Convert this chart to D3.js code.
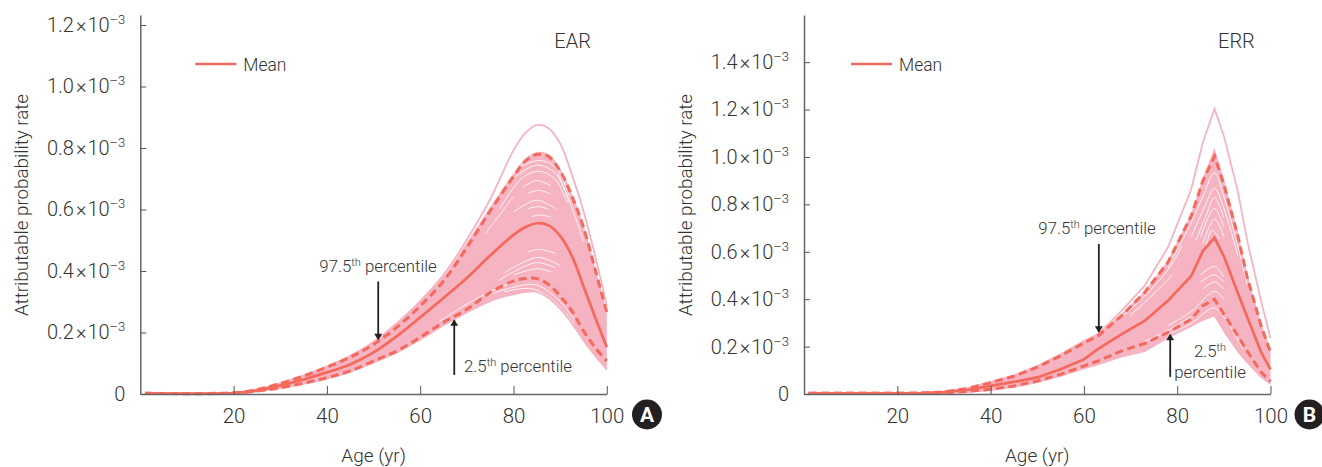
<!DOCTYPE html>
<html>
<head>
<meta charset="utf-8">
<script src="https://cdn.jsdelivr.net/npm/d3@7"></script>
<style>
  body { margin: 0; background: #fff; }
  svg { display: block; }
  text { font-family: Roboto, "Liberation Sans", Arial, sans-serif; font-weight: 300; fill: #333; }
</style>
</head>
<body>
<div id="chart"></div>
<script>
// all values are in units of 10^-3
const earAges = [1, 20, 25, 30, 35, 40, 45, 50, 55, 60, 65, 70, 75, 80, 82.5, 85, 87.5, 90, 92.5, 95, 97.5, 100];
const earMean = [0, 0.001, 0.009, 0.025, 0.045, 0.068, 0.094, 0.133, 0.186, 0.247, 0.31, 0.375, 0.448, 0.515, 0.54, 0.553, 0.546, 0.512, 0.447, 0.348, 0.247, 0.15];
const earP975 = [0, 0.001, 0.012, 0.032, 0.056, 0.085, 0.117, 0.159, 0.215, 0.284, 0.365, 0.474, 0.593, 0.705, 0.755, 0.777, 0.77, 0.723, 0.642, 0.54, 0.403, 0.263];
const earP025 = [0, 0.001, 0.007, 0.018, 0.033, 0.051, 0.073, 0.105, 0.138, 0.182, 0.231, 0.273, 0.328, 0.365, 0.373, 0.373, 0.354, 0.316, 0.268, 0.203, 0.149, 0.105];
const earMax = [0, 0.001, 0.013, 0.033, 0.058, 0.088, 0.122, 0.168, 0.228, 0.3, 0.385, 0.5, 0.631, 0.79, 0.846, 0.872, 0.862, 0.812, 0.712, 0.593, 0.447, 0.286];
const earMin = [0, 0.001, 0.006, 0.017, 0.031, 0.048, 0.07, 0.1, 0.133, 0.175, 0.221, 0.263, 0.3, 0.322, 0.33, 0.33, 0.31, 0.275, 0.228, 0.172, 0.122, 0.078];
const earTop = [0, 0.001, 0.013, 0.033, 0.058, 0.088, 0.122, 0.168, 0.228, 0.3, 0.38, 0.49, 0.605, 0.715, 0.762, 0.785, 0.778, 0.73, 0.65, 0.548, 0.41, 0.27];
// thin white gaps between the simulated runs, [age, value]
const earGaps = [
  [[81, 0.735], [85.5, 0.757], [89, 0.735], [92, 0.64]],
  [[80, 0.7], [85, 0.742], [89, 0.715], [92, 0.62]],
  [[77, 0.6], [82, 0.702], [85.5, 0.722], [89, 0.695], [91.5, 0.62]],
  [[82, 0.67], [85, 0.692], [88, 0.675]],
  [[83, 0.65], [85.5, 0.66], [88, 0.648]],
  [[80, 0.59], [85, 0.628], [89, 0.6]],
  [[83, 0.6], [85.5, 0.607], [87.5, 0.598]],
  [[84, 0.575], [86, 0.58], [88, 0.572]],
  [[74, 0.52], [78, 0.6], [80, 0.64]],
  [[83, 0.46], [85.5, 0.468], [89, 0.455]],
  [[78, 0.392], [82, 0.425], [85.5, 0.442], [90, 0.415]],
  [[77, 0.368], [80, 0.395], [85, 0.425], [89, 0.408]],
  [[80, 0.385], [85, 0.405], [88, 0.395]],
  [[64, 0.232], [70, 0.29], [76, 0.338], [80, 0.36]],
  [[75, 0.322], [80, 0.345], [85, 0.352], [90, 0.298], [93, 0.24]],
  [[78, 0.33], [84, 0.34], [89, 0.295], [93, 0.225]],
  [[89.5, 0.715], [92, 0.625], [95, 0.495]],
];

const errAges = [1, 20, 25, 30, 35, 40, 45, 50, 55, 60, 63, 68, 73, 78, 83, 85.5, 88, 90, 93, 95, 98, 100];
const errMean = [0, 0, 0.001, 0.005, 0.014, 0.031, 0.048, 0.067, 0.101, 0.143, 0.186, 0.249, 0.305, 0.39, 0.495, 0.6, 0.657, 0.578, 0.423, 0.322, 0.173, 0.101];
const errP975 = [0, 0, 0.001, 0.006, 0.02, 0.045, 0.072, 0.11, 0.158, 0.212, 0.242, 0.326, 0.425, 0.552, 0.748, 0.896, 1.0, 0.882, 0.664, 0.49, 0.284, 0.173];
const errP025 = [0, 0, 0, 0.002, 0.008, 0.017, 0.031, 0.052, 0.08, 0.115, 0.136, 0.178, 0.21, 0.257, 0.312, 0.37, 0.397, 0.333, 0.242, 0.178, 0.089, 0.05];
const errMax = [0, 0, 0.001, 0.007, 0.022, 0.048, 0.076, 0.115, 0.165, 0.22, 0.25, 0.347, 0.453, 0.615, 0.861, 1.058, 1.2, 1.086, 0.852, 0.645, 0.388, 0.232];
const errMin = [0, 0, 0, 0.001, 0.005, 0.013, 0.027, 0.047, 0.073, 0.105, 0.122, 0.155, 0.178, 0.236, 0.284, 0.31, 0.329, 0.263, 0.178, 0.131, 0.068, 0.04];
const errTop = [0, 0, 0.001, 0.007, 0.022, 0.048, 0.076, 0.115, 0.165, 0.22, 0.25, 0.335, 0.43, 0.56, 0.76, 0.91, 1.035, 0.905, 0.68, 0.505, 0.295, 0.19];
const errGaps = [
  [[78, 0.53], [83, 0.72], [85.5, 0.83], [88, 0.93], [90, 0.83], [93, 0.62], [95, 0.46]],
  [[83, 0.66], [85.5, 0.77], [88, 0.865], [90, 0.78], [93, 0.58]],
  [[84, 0.645], [86, 0.74], [88, 0.825], [90, 0.74]],
  [[85, 0.66], [88, 0.78], [90, 0.7]],
  [[85.5, 0.63], [88, 0.735], [90, 0.66]],
  [[86, 0.61], [87.5, 0.69], [89, 0.65]],
  [[85, 0.5], [88, 0.535], [90, 0.49]],
  [[85, 0.47], [88, 0.5], [90, 0.47]],
  [[85.5, 0.44], [88, 0.47], [90, 0.44]],
  [[78, 0.285], [83, 0.345], [88, 0.43], [90, 0.4]],
  [[73, 0.22], [78, 0.265], [83, 0.325]],
  [[78, 0.248], [83, 0.295], [88, 0.36], [91, 0.29], [94, 0.19]],
  [[68, 0.32], [73, 0.41], [78, 0.52], [81, 0.62]],
  [[70, 0.33], [75, 0.42], [79, 0.5]],
];

const xTicks = [20, 40, 60, 80, 100];
const earTicks = [0, 0.2, 0.4, 0.6, 0.8, 1.0, 1.2];
const errTicks = [0, 0.2, 0.4, 0.6, 0.8, 1.0, 1.2, 1.4];

const width = 1322,
  height = 467;
const pink = "#f6b3c1",
  red = "#f4695b";

const svg = d3
  .select("#chart")
  .append("svg")
  .attr("width", width)
  .attr("height", height);

svg
  .append("defs")
  .append("marker")
  .attr("id", "head")
  .attr("viewBox", "0 0 8 10")
  .attr("refX", 7)
  .attr("refY", 5)
  .attr("markerWidth", 7)
  .attr("markerHeight", 8)
  .attr("markerUnits", "userSpaceOnUse")
  .attr("orient", "auto")
  .append("path")
  .attr("d", "M0,0L8,5L0,10Z")
  .attr("fill", "#222");

function series(ages, values) {
  return ages.map((a, i) => [a, values[i]]);
}

function drawPanel(p) {
  const x = d3.scaleLinear().domain([0, 100]).range([p.left, p.left + 466.5]);
  const y = d3.scaleLinear().domain([0, p.yMax]).range([394, 15]);
  const g = svg.append("g");
  // the curves sit a hair above the axis line in the original
  const marks = g.append("g").attr("transform", "translate(0,-0.7)");

  const line = d3
    .line()
    .curve(p.curve)
    .x((d) => x(d[0]))
    .y((d) => y(d[1]));
  const band = d3
    .area()
    .curve(p.curve)
    .x((d) => x(d[0]))
    .y0((d) => y(d[1]))
    .y1((d) => y(d[2]));

  marks
    .append("path")
    .attr("d", band(p.ages.map((a, i) => [a, p.min[i], p.top[i]])))
    .attr("fill", pink);

  marks
    .selectAll(".gap")
    .data(p.gaps)
    .enter()
    .append("path")
    .attr("class", "gap")
    .attr("d", d3.line().curve(d3.curveCatmullRom).x((d) => x(d[0])).y((d) => y(d[1])))
    .attr("fill", "none")
    .attr("stroke", "#fff")
    .attr("stroke-opacity", 0.85)
    .attr("stroke-width", 1);

  [p.max, p.min].forEach((v) => {
    marks
      .append("path")
      .attr("d", line(series(p.ages, v)))
      .attr("fill", "none")
      .attr("stroke", pink)
      .attr("stroke-width", 1.8);
  });

  [p.p975, p.p025].forEach((v) => {
    marks
      .append("path")
      .attr("d", line(series(p.ages, v)))
      .attr("fill", "none")
      .attr("stroke", red)
      .attr("stroke-width", 3)
      .attr("stroke-dasharray", "8,4.5");
  });

  marks
    .append("path")
    .attr("d", line(series(p.ages, p.mean)))
    .attr("fill", "none")
    .attr("stroke", red)
    .attr("stroke-width", 2.7);

  // axes
  const xAxis = g
    .append("g")
    .attr("transform", `translate(0,${y(0)})`)
    .call(d3.axisBottom(x).tickValues(xTicks).tickSize(-8).tickSizeOuter(0).tickPadding(14));
  const yAxis = g
    .append("g")
    .attr("transform", `translate(${x(0)},0)`)
    .call(d3.axisLeft(y).tickValues(p.ticks).tickSize(-6).tickSizeOuter(0).tickPadding(15).tickFormat(""));

  [xAxis, yAxis].forEach((a) => {
    a.select(".domain").attr("stroke", "#666").attr("stroke-width", 1.5);
    a.selectAll(".tick line").attr("stroke", "#555");
  });
  xAxis.selectAll("text").style("font-size", "20.5px");

  yAxis.selectAll(".tick text").each(function (d) {
    const t = d3.select(this).style("font-size", "20px");
    if (d === 0) {
      t.text("0");
      return;
    }
    t.append("tspan").text(d3.format(".1f")(d));
    t.append("tspan").attr("dx", 2).text("×");
    t.append("tspan").attr("dx", 1).text("10");
    t.append("tspan").attr("dy", -8).style("font-size", "13px").text("–3");
  });

  // axis titles
  g.append("text")
    .attr("transform", `translate(${p.yTitleX},205) rotate(-90)`)
    .attr("text-anchor", "middle")
    .style("font-size", "18.8px")
    .attr("dy", "0.35em")
    .text("Attributable probability rate");
  g.append("text")
    .attr("x", x(50))
    .attr("y", 455)
    .attr("dy", "0.35em")
    .attr("text-anchor", "middle")
    .style("font-size", "19px")
    .text("Age (yr)");

  g.append("text")
    .attr("x", p.left + p.titleDx)
    .attr("y", 41)
    .attr("dy", "0.35em")
    .style("font-size", "20px")
    .text(p.title);

  // legend
  g.append("line")
    .attr("x1", p.left + p.legendDx)
    .attr("x2", p.left + p.legendDx + 41)
    .attr("y1", 64)
    .attr("y2", 64)
    .attr("stroke", red)
    .attr("stroke-width", 2.7);
  g.append("text")
    .attr("x", p.left + p.legendDx + 48)
    .attr("y", 65)
    .attr("dy", "0.35em")
    .style("font-size", "17.5px")
    .text("Mean");

  // percentile arrows, [age, from, to]
  p.arrows.forEach((a) => {
    g.append("line")
      .attr("x1", x(a[0]))
      .attr("x2", x(a[0]))
      .attr("y1", y(a[1]))
      .attr("y2", y(a[2]))
      .attr("stroke", "#222")
      .attr("stroke-width", 1.8)
      .attr("marker-end", "url(#head)");
  });

  p.notes.forEach((n) => {
    const t = g
      .append("text")
      .attr("x", n.x)
      .attr("y", n.y)
      .attr("dy", "0.35em")
      .attr("text-anchor", "middle")
      .style("font-size", "16.8px");
    t.append("tspan").text(n.head);
    if (n.sup) {
      t.append("tspan").attr("dy", -6).style("font-size", "11px").text(n.sup);
      t.append("tspan").attr("dy", 6).text(n.tail);
    }
  });

  // panel badge
  g.append("circle").attr("cx", p.badgeX).attr("cy", 414.5).attr("r", 15).attr("fill", "#231f20");
  g.append("text")
    .attr("x", p.badgeX)
    .attr("y", 415)
    .attr("dy", "0.35em")
    .attr("text-anchor", "middle")
    .style("font-size", "21px")
    .style("font-weight", "bold")
    .style("fill", "#fff")
    .text(p.badge);
}

drawPanel({
  left: 140.3,
  yMax: 1.2325,
  curve: d3.curveCatmullRom,
  ticks: earTicks,
  ages: earAges,
  mean: earMean,
  p975: earP975,
  p025: earP025,
  max: earMax,
  min: earMin,
  top: earTop,
  gaps: earGaps,
  title: "EAR",
  titleDx: 414,
  legendDx: 55,
  yTitleX: 21,
  badge: "A",
  badgeX: 647,
  arrows: [
    [51, 0.366, 0.178],
    [67.3, 0.062, 0.24],
  ],
  notes: [
    { x: 378, y: 266, head: "97.5", sup: "th", tail: " percentile" },
    { x: 518, y: 366, head: "2.5", sup: "th", tail: " percentile" },
  ],
});

drawPanel({
  left: 804,
  yMax: 1.599,
  curve: d3.curveLinear,
  ticks: errTicks,
  ages: errAges,
  mean: errMean,
  p975: errP975,
  p025: errP025,
  max: errMax,
  min: errMin,
  top: errTop,
  gaps: errGaps,
  title: "ERR",
  titleDx: 414,
  legendDx: 47,
  yTitleX: 685,
  badge: "B",
  badgeX: 1309.5,
  arrows: [
    [63.2, 0.633, 0.262],
    [78.5, 0.072, 0.25],
  ],
  notes: [
    { x: 1097, y: 228, head: "97.5", sup: "th", tail: " percentile" },
    { x: 1210, y: 351, head: "2.5", sup: "th", tail: "" },
    { x: 1210, y: 372, head: "percentile" },
  ],
});
</script>
</body>
</html>
